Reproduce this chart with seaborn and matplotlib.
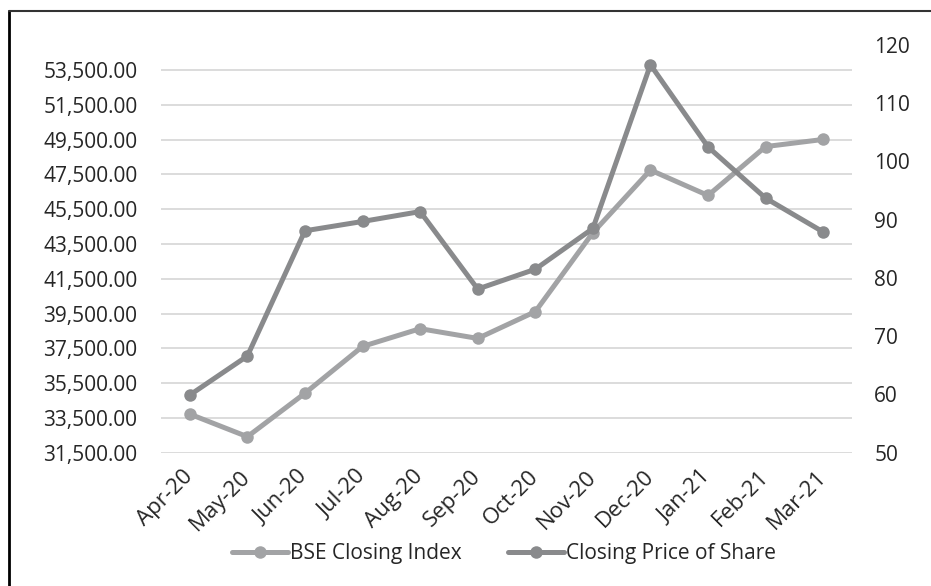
import matplotlib
matplotlib.use("Agg")
import matplotlib.pyplot as plt
import numpy as np
import pandas as pd
import seaborn as sns
from matplotlib.lines import Line2D

months = ["Apr-20", "May-20", "Jun-20", "Jul-20", "Aug-20", "Sep-20",
          "Oct-20", "Nov-20", "Dec-20", "Jan-21", "Feb-21", "Mar-21"]
bse_close = [33720, 32420, 34920, 37610, 38630, 38070,
             39610, 44150, 47750, 46290, 49100, 49510]
share_close = [59.9, 66.6, 88.1, 89.7, 91.4, 78.1,
               81.5, 88.5, 116.6, 102.5, 93.7, 87.9]
left_ticks = list(range(31500, 53501, 2000))
right_ticks = list(range(50, 121, 10))

light = "#A2A3A5"
dark = "#898A8C"

sns.set_style("white")
plt.rcParams["font.family"] = ["Open Sans", "DejaVu Sans"]

df = pd.DataFrame({"month": months, "idx": np.arange(len(months)),
                   "bse": bse_close, "share": share_close})

fig = plt.figure(figsize=(9.31, 5.86), dpi=100)
ax = fig.add_axes([161 / 931, 1 - 452.7 / 586, (852 - 161) / 931, (452.7 - 45) / 586])
ax2 = ax.twinx()

sns.lineplot(data=df, x="idx", y="bse", ax=ax, color=light, lw=3.6,
             marker="o", markersize=9, markeredgewidth=0, legend=False)
sns.lineplot(data=df, x="idx", y="share", ax=ax2, color=dark, lw=3.6,
             marker="o", markersize=9, markeredgewidth=0, legend=False)

ax.set_xlim(-0.5, len(months) - 0.5)
ax.set_ylim(31500, 54940)
ax2.set_ylim(50, 120)
ax.set_yticks(left_ticks)
ax.set_yticklabels([f"{v:,.2f}" for v in left_ticks], fontsize=15)
ax2.set_yticks(right_ticks)
ax2.set_yticklabels([str(v) for v in right_ticks], fontsize=15)
ax.set_xticks(df["idx"])
ax.set_xticklabels(months, rotation=45, ha="right", va="center",
                   rotation_mode="anchor", fontsize=16)

ax.grid(axis="y", color="#D9D9D9", lw=1.3)
ax.set_axisbelow(True)
ax2.grid(False)
for a in (ax, ax2):
    for s in a.spines.values():
        s.set_visible(False)
    a.set_xlabel("")
    a.set_ylabel("")
ax.tick_params(axis="x", length=0, pad=15)
ax.tick_params(axis="y", length=0, pad=17)
ax2.tick_params(axis="y", length=0, pad=16)

handles = [Line2D([], [], color=light, lw=3.6, marker="o", markersize=9, markeredgewidth=0),
           Line2D([], [], color=dark, lw=3.6, marker="o", markersize=9, markeredgewidth=0)]
fig.legend(handles, ["BSE Closing Index", "Closing Price of Share"],
           loc="center", bbox_to_anchor=(504 / 931, 1 - 554 / 586), ncol=2,
           frameon=False, fontsize=15, handlelength=2.7, handletextpad=0.1,
           columnspacing=2.2)

# chart border (left and top edges visible)
fig.add_artist(Line2D([8.5 / 931, 8.5 / 931], [0, 1 - 11 / 586], color="black", lw=2))
fig.add_artist(Line2D([8.5 / 931, 1], [1 - 11 / 586, 1 - 11 / 586], color="#333333", lw=1.5))

fig.savefig("out.png", dpi=100)
